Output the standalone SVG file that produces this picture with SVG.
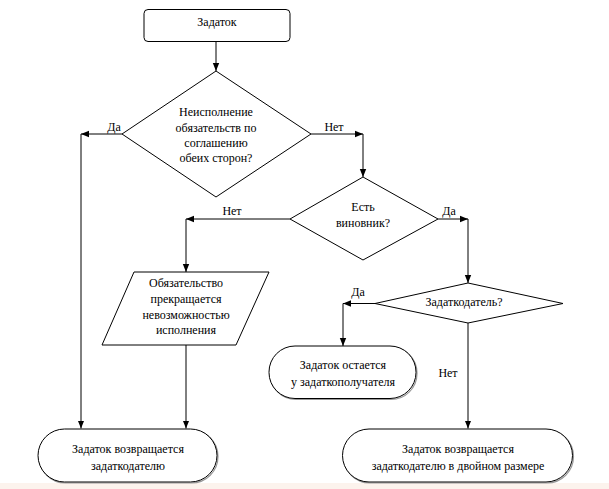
<svg xmlns="http://www.w3.org/2000/svg" width="609" height="489" viewBox="0 0 609 489">
<defs>
<style>
.s{fill:#fff;stroke:#000;stroke-width:1}
.sh{fill:none;stroke:#999;stroke-width:1.2}
.c{fill:none;stroke:#000;stroke-width:1}
text{font-family:"Liberation Serif","Times New Roman",serif;font-size:12px;fill:#000;text-anchor:middle}
</style>
<marker id="a" viewBox="0 0 8 8" refX="8" refY="4" markerWidth="8" markerHeight="8" markerUnits="userSpaceOnUse" orient="auto">
<path d="M0,0.8 L8,4 L0,7.2 Z" fill="#000"/>
</marker>
</defs>
<rect x="0" y="0" width="609" height="489" fill="#fff"/>
<rect x="0" y="483" width="609" height="6" fill="#fcf3ed"/>

<g id="start">
<rect class="s" x="144" y="9.5" width="146" height="32" rx="4"/>
<text x="217" y="26">Задаток</text>
</g>

<g id="d1">
<polygon class="s" points="216,71 311,134 216,197 122,134"/>
<text x="216" y="116">Неисполнение</text>
<text x="216" y="132">обязательств по</text>
<text x="216" y="147">соглашению</text>
<text x="216" y="162">обеих сторон?</text>
</g>

<g id="d2">
<polygon class="s" points="363,177 438,219 363,260 290,219"/>
<text x="363" y="211">Есть</text>
<text x="363" y="227">виновник?</text>
</g>

<g id="p1">
<polygon class="s" points="134,272 269,272 236,345 102,345"/>
<text x="186" y="287">Обязательство</text>
<text x="186" y="303">прекращается</text>
<text x="186" y="319">невозможностью</text>
<text x="186" y="334">исполнения</text>
</g>

<g id="d3">
<polygon class="s" points="468,283 563,303.5 468,323 375,303.5"/>
<text x="464" y="306">Задаткодатель?</text>
</g>

<g id="t1">
<rect class="sh" x="270" y="347" width="147" height="52.5" rx="26"/>
<rect class="s" x="269" y="346" width="147" height="52.5" rx="26"/>
<text x="343" y="369">Задаток остается</text>
<text x="343" y="386">у задаткополучателя</text>
</g>

<g id="t2">
<rect class="sh" x="39" y="430" width="179" height="53" rx="26.5"/>
<rect class="s" x="38" y="429" width="179" height="53" rx="26.5"/>
<text x="128" y="453">Задаток возвращается</text>
<text x="128" y="470">задаткодателю</text>
</g>

<g id="t3">
<rect class="sh" x="343.5" y="430" width="230" height="53" rx="26.5"/>
<rect class="s" x="342.5" y="429" width="230" height="53" rx="26.5"/>
<text x="458" y="453">Задаток возвращается</text>
<text x="458" y="470">задаткодателю в двойном размере</text>
</g>

<g id="connectors">
<path class="c" d="M216,41.5 V71" marker-end="url(#a)"/>
<path class="c" d="M122,134 H81" marker-end="url(#a)"/>
<path class="c" d="M81,134 V428.5" marker-end="url(#a)"/>
<path class="c" d="M311,134 H363" marker-end="url(#a)"/>
<path class="c" d="M363,134 V177" marker-end="url(#a)"/>
<path class="c" d="M290,219 H186" marker-end="url(#a)"/>
<path class="c" d="M186,219 V272" marker-end="url(#a)"/>
<path class="c" d="M438,219 H468" marker-end="url(#a)"/>
<path class="c" d="M468,219 V283" marker-end="url(#a)"/>
<path class="c" d="M186,345 V428.5" marker-end="url(#a)"/>
<path class="c" d="M375,303.5 H343" marker-end="url(#a)"/>
<path class="c" d="M343,303.5 V346" marker-end="url(#a)"/>
<path class="c" d="M468,323 V428.5" marker-end="url(#a)"/>
<text x="114" y="131">Да</text>
<text x="334" y="131">Нет</text>
<text x="232" y="215">Нет</text>
<text x="449" y="215">Да</text>
<text x="358" y="296">Да</text>
<text x="448" y="377">Нет</text>
</g>
</svg>
